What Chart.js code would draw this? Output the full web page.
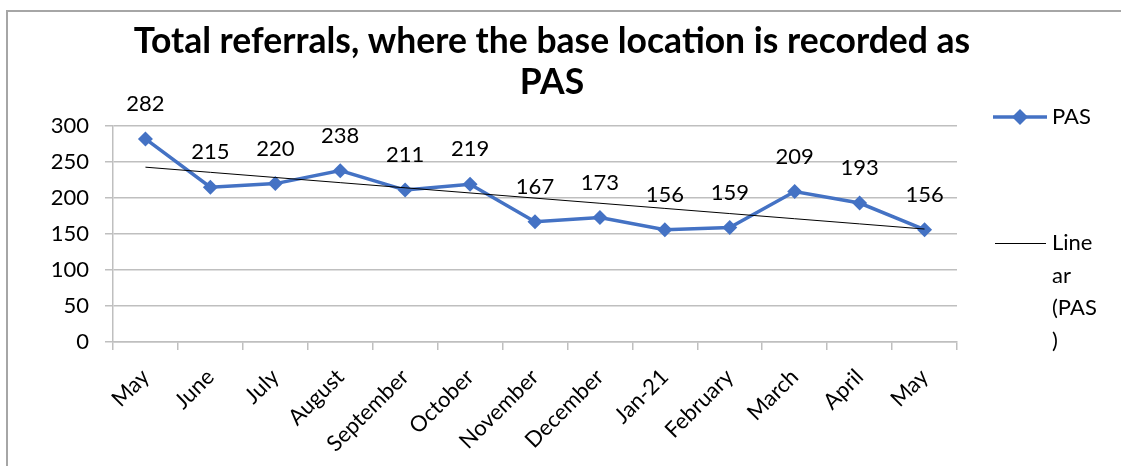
<!DOCTYPE html>
<html>
<head>
<meta charset="utf-8">
<script src="https://cdn.jsdelivr.net/npm/chart.js@4"></script>
<style>
  html, body { margin: 0; padding: 0; background: #ffffff; }
  #wrap { width: 1121px; height: 466px; position: relative; }
</style>
</head>
<body>
<div id="wrap"><canvas id="c" width="1121" height="466"></canvas></div>
<script>
// ---- data ----
const categories = ['May', 'June', 'July', 'August', 'September', 'October', 'November', 'December', 'Jan-21', 'February', 'March', 'April', 'May'];
const pasValues = [282, 215, 220, 238, 211, 219, 167, 173, 156, 159, 209, 193, 156];
const yMin = 0;
const yMax = 300;
const yStep = 50;
const titleLines = ['Total referrals, where the base location is recorded as', 'PAS'];
const seriesLabel = 'PAS';
const trendLabel = 'Linear (PAS)';
const trendLegendLines = ['Line', 'ar', '(PAS', ')'];

// Linear trendline (least squares fit of the PAS series, as the spreadsheet trendline does)
function linearTrend(vals) {
  const n = vals.length;
  let sx = 0, sy = 0, sxy = 0, sxx = 0;
  vals.forEach((v, i) => { sx += i; sy += v; sxy += i * v; sxx += i * i; });
  const slope = (n * sxy - sx * sy) / (n * sxx - sx * sx);
  const icpt = (sy - slope * sx) / n;
  return vals.map((_, i) => icpt + slope * i);
}
const trendValues = linearTrend(pasValues);

const FONT = "Lato, 'Noto Sans', sans-serif";
const TXT = 22;
const BLUE = '#4472C4';
const GRID = '#bfbfbf';

const framePlugin = {
  id: 'frame',
  beforeDraw(chart) {
    const ctx = chart.ctx;
    ctx.save();
    ctx.fillStyle = '#ffffff';
    ctx.fillRect(0, 0, chart.width, chart.height);
    ctx.strokeStyle = '#a6a6a6';
    ctx.lineWidth = 2;
    ctx.beginPath();
    ctx.moveTo(7, chart.height);
    ctx.lineTo(7, 11);
    ctx.lineTo(chart.width, 11);
    ctx.stroke();
    ctx.restore();
  }
};

const titlePlugin = {
  id: 'titleText',
  afterDraw(chart) {
    const ctx = chart.ctx;
    ctx.save();
    ctx.fillStyle = '#000000';
    ctx.font = 'bold 35.5px ' + FONT;
    ctx.textAlign = 'center';
    ctx.textBaseline = 'middle';
    const cx = 552;
    titleLines.forEach((t, i) => ctx.fillText(t, cx, 42 + i * 41));
    ctx.restore();
  }
};

const labelPlugin = {
  id: 'valueLabels',
  afterDatasetsDraw(chart) {
    const ctx = chart.ctx;
    const idx = chart.data.datasets.findIndex(d => d.label === seriesLabel);
    const meta = chart.getDatasetMeta(idx);
    const vals = chart.data.datasets[idx].data;
    ctx.save();
    ctx.fillStyle = '#000000';
    ctx.font = TXT + 'px ' + FONT;
    ctx.textAlign = 'center';
    ctx.textBaseline = 'middle';
    meta.data.forEach((pt, i) => {
      ctx.fillText(String(vals[i]), pt.x, pt.y - 35);
    });
    ctx.restore();
  }
};

const legendPlugin = {
  id: 'sideLegend',
  afterDraw(chart) {
    const ctx = chart.ctx;
    ctx.save();
    // PAS entry
    const y1 = 117;
    ctx.strokeStyle = BLUE;
    ctx.lineWidth = 3.5;
    ctx.beginPath();
    ctx.moveTo(993, y1);
    ctx.lineTo(1047, y1);
    ctx.stroke();
    ctx.fillStyle = BLUE;
    ctx.beginPath();
    const r = 8;
    ctx.moveTo(1020, y1 - r);
    ctx.lineTo(1020 + r, y1);
    ctx.lineTo(1020, y1 + r);
    ctx.lineTo(1020 - r, y1);
    ctx.closePath();
    ctx.fill();
    ctx.fillStyle = '#000000';
    ctx.font = TXT + 'px ' + FONT;
    ctx.textAlign = 'left';
    ctx.textBaseline = 'middle';
    ctx.fillText(seriesLabel, 1052, y1);
    // Linear entry
    const y2 = 243;
    ctx.strokeStyle = '#000000';
    ctx.lineWidth = 1;
    ctx.beginPath();
    ctx.moveTo(995, y2 + 0.5);
    ctx.lineTo(1046, y2 + 0.5);
    ctx.stroke();
    trendLegendLines.forEach((t, i) => ctx.fillText(t, 1052, y2 + i * 32.5));
    ctx.restore();
  }
};

new Chart(document.getElementById('c'), {
  type: 'line',
  data: {
    labels: categories,
    datasets: [
      {
        label: seriesLabel,
        data: pasValues,
        borderColor: BLUE,
        backgroundColor: BLUE,
        borderWidth: 3.5,
        pointStyle: 'rectRot',
        pointRadius: 7.5,
        pointHoverRadius: 7.5,
        pointBackgroundColor: BLUE,
        pointBorderColor: BLUE,
        pointBorderWidth: 0,
        tension: 0,
        fill: false,
        order: 1
      },
      {
        label: trendLabel,
        data: trendValues,
        borderColor: '#000000',
        borderWidth: 1,
        pointRadius: 0,
        pointHoverRadius: 0,
        tension: 0,
        fill: false,
        order: 0
      }
    ]
  },
  options: {
    responsive: false,
    animation: false,
    events: [],
    layout: { padding: { top: 126, right: 164, left: 0, bottom: 0 } },
    plugins: {
      legend: { display: false },
      title: { display: false },
      tooltip: { enabled: false }
    },
    scales: {
      x: {
        type: 'category',
        offset: true,
        grid: {
          display: true,
          drawOnChartArea: false,
          drawTicks: true,
          tickLength: 8,
          color: GRID,
          lineWidth: 1.5,
          offset: true
        },
        border: { display: true, color: GRID, width: 1.5 },
        ticks: {
          autoSkip: false,
          minRotation: 45,
          maxRotation: 45,
          color: '#000000',
          font: { family: FONT, size: TXT },
          padding: 14
        },
        afterFit(scale) { scale.height = 124; }
      },
      y: {
        min: yMin,
        max: yMax,
        ticks: {
          stepSize: yStep,
          color: '#000000',
          font: { family: FONT, size: TXT },
          padding: 16
        },
        grid: {
          color: GRID,
          lineWidth: 1.5,
          drawTicks: true,
          tickLength: 8
        },
        border: { display: true, color: GRID, width: 1.5 },
        afterFit(scale) { scale.width = 113; }
      }
    }
  },
  plugins: [framePlugin, titlePlugin, labelPlugin, legendPlugin]
});
</script>
</body>
</html>
